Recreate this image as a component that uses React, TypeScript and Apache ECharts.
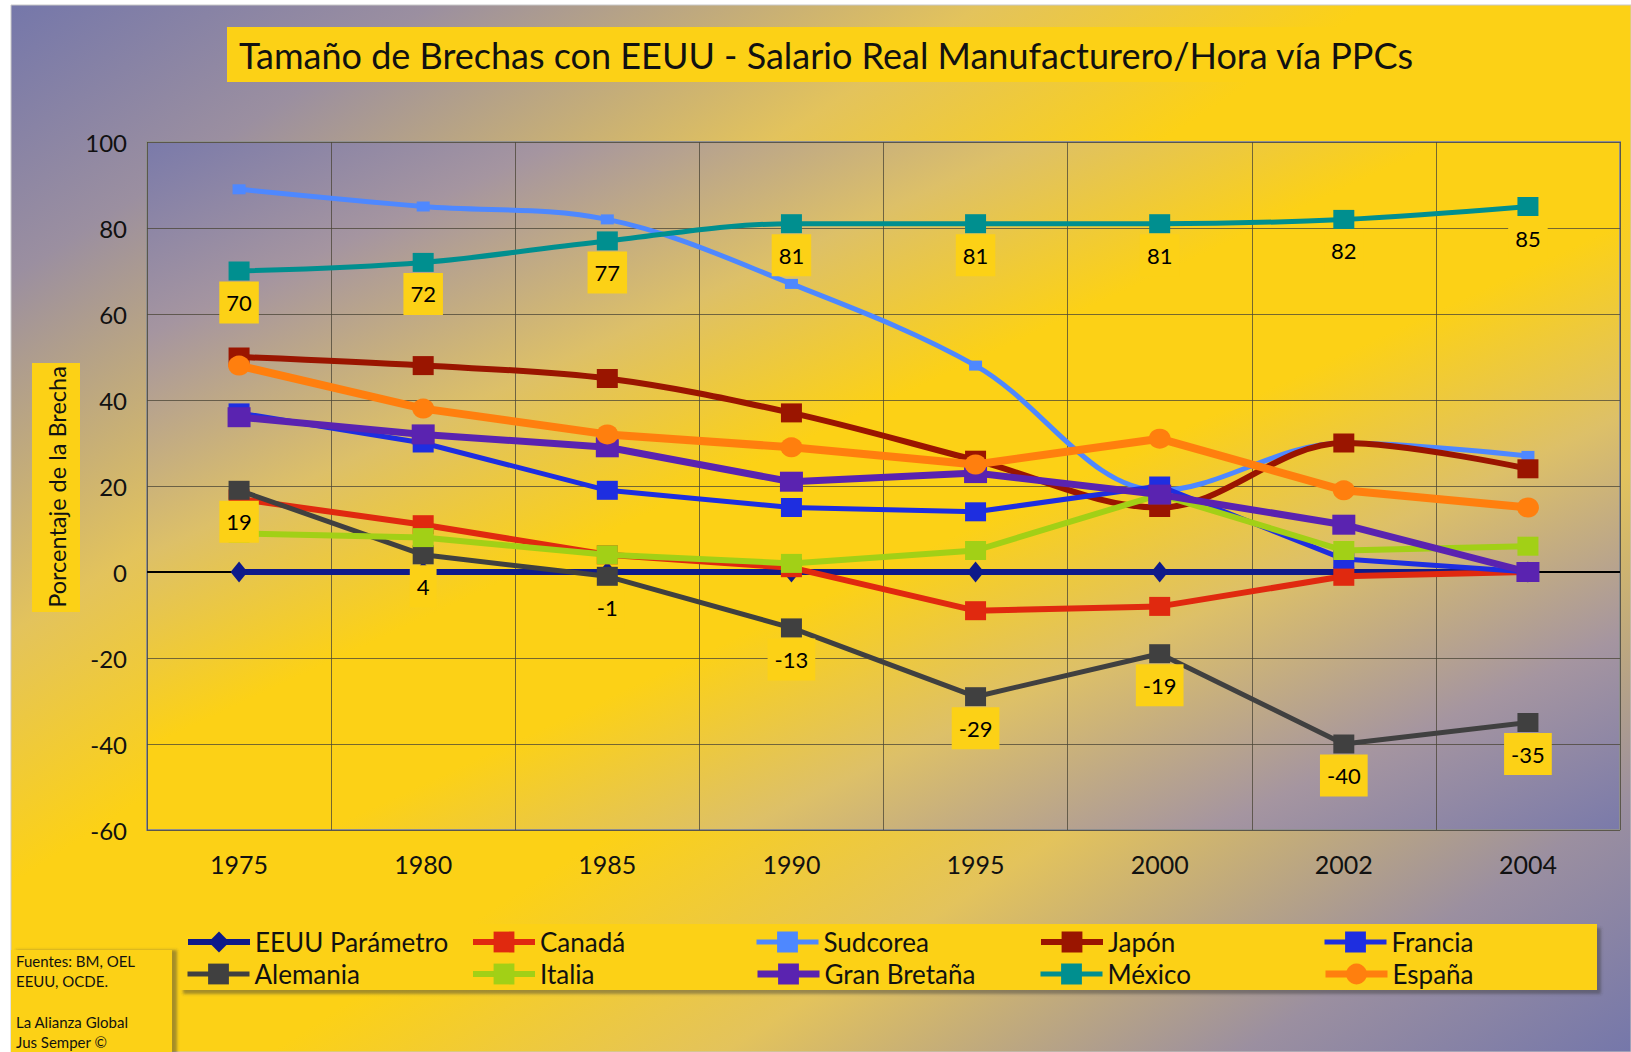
import React, { useEffect, useRef } from 'react';
import * as echarts from 'echarts';

const years = ['1975', '1980', '1985', '1990', '1995', '2000', '2002', '2004'];
const eeuu = [0, 0, 0, 0, 0, 0, 0, 0];
const canada = [17, 11, 4, 1, -9, -8, -1, 0];
const sudcorea = [89, 85, 82, 67, 48, 19, 30, 27];
const japon = [50, 48, 45, 37, 26, 15, 30, 24];
const francia = [37, 30, 19, 15, 14, 20, 3, 0];
const alemania = [19, 4, -1, -13, -29, -19, -40, -35];
const italia = [9, 8, 4, 2, 5, 18, 5, 6];
const granBretana = [36, 32, 29, 21, 23, 18, 11, 0];
const mexico = [70, 72, 77, 81, 81, 81, 82, 85];
const espana = [48, 38, 32, 29, 25, 31, 19, 15];

const yMin = -60;
const yMax = 100;
const yStep = 20;

const titleText = 'Tamaño de Brechas con EEUU - Salario Real Manufacturero/Hora vía PPCs';
const yName = 'Porcentaje de la Brecha';
const sourceLines = ['Fuentes: BM, OEL', 'EEUU, OCDE.', '', 'La Alianza Global', 'Jus Semper ©'];

const F = 'Lato, "Open Sans", "DejaVu Sans", sans-serif';
const YELLOW = '#FCD116';

const outerGrad = {
  type: 'linear', x: 0, y: 0, x2: 1, y2: 1,
  colorStops: [
    { offset: 0, color: '#7577aa' },
    { offset: 0.13, color: '#9b8fa0' },
    { offset: 0.3, color: '#e3c35c' },
    { offset: 0.42, color: '#fcd116' },
    { offset: 0.58, color: '#fcd116' },
    { offset: 0.72, color: '#e3c35c' },
    { offset: 0.88, color: '#9b8fa0' },
    { offset: 1, color: '#7577aa' },
  ],
};

const plotGrad = {
  type: 'linear', x: 0, y: 0, x2: 1, y2: 1,
  colorStops: [
    { offset: 0, color: '#7a7aaa' },
    { offset: 0.14, color: '#a595a0' },
    { offset: 0.3, color: '#ddc068' },
    { offset: 0.44, color: '#fcd116' },
    { offset: 0.56, color: '#fcd116' },
    { offset: 0.7, color: '#ddc068' },
    { offset: 0.86, color: '#a595a0' },
    { offset: 1, color: '#7a7aaa' },
  ],
};

type SDef = { name: string; data: number[]; color: string; symbol: string; size: number[]; width: number; smooth?: boolean; label?: boolean };

const seriesDefs: SDef[] = [
  { name: 'EEUU Parámetro', data: eeuu, color: '#0f1a8a', symbol: 'diamond', size: [17, 21], width: 6 },
  { name: 'Canadá', data: canada, color: '#e0290f', symbol: 'rect', size: [21, 19], width: 6 },
  { name: 'Sudcorea', data: sudcorea, color: '#4e88ff', symbol: 'rect', size: [13, 10], width: 5, smooth: true },
  { name: 'Japón', data: japon, color: '#9a1500', symbol: 'rect', size: [21, 19], width: 6, smooth: true },
  { name: 'Francia', data: francia, color: '#1e2ee0', symbol: 'rect', size: [21, 19], width: 5 },
  { name: 'Alemania', data: alemania, color: '#404040', symbol: 'rect', size: [21, 19], width: 5, label: true },
  { name: 'Italia', data: italia, color: '#a2d016', symbol: 'rect', size: [21, 19], width: 6 },
  { name: 'Gran Bretaña', data: granBretana, color: '#5a23b0', symbol: 'rect', size: [23, 20], width: 7 },
  { name: 'México', data: mexico, color: '#008f8f', symbol: 'rect', size: [21, 19], width: 5, smooth: true, label: true },
  { name: 'España', data: espana, color: '#ff7f0e', symbol: 'circle', size: [22, 20], width: 8 },
];

const legendCols = [185, 470, 754, 1038, 1322];
const legendRows = [942, 974];

export default function App() {
  const ref = useRef<HTMLDivElement>(null);
  useEffect(() => {
    document.body.style.margin = '0';
    if (!ref.current) return;
    const chart = echarts.init(ref.current, undefined, { renderer: 'svg' });

    const labelStyle = {
      show: true,
      position: 'bottom',
      distance: 1,
      fontSize: 22,
      fontFamily: F,
      color: '#000',
      opacity: 1,
      backgroundColor: YELLOW,
      padding: [10, 7, 10, 7],
    };

    const series: any[] = seriesDefs.map((s, i) => {
      const o: any = {
        name: s.name,
        type: 'line',
        data: s.data,
        symbol: s.symbol,
        symbolSize: s.size,
        smooth: s.smooth ? 0.35 : false,
        lineStyle: { color: s.color, width: s.width },
        itemStyle: { color: s.color },
        z: 3 + i,
        label: { show: false },
      };
      if (i === 0) {
        o.markLine = {
          silent: true,
          symbol: 'none',
          z: 1,
          label: { show: false },
          lineStyle: { color: '#000', width: 2, type: 'solid' },
          data: [{ yAxis: 0 }],
        };
      }
      return o;
    });

    // label-only overlay series so that the data labels sit above every line
    seriesDefs.filter((s) => s.label).forEach((s) => {
      series.push({
        name: '_lbl_' + s.name,
        type: 'line',
        data: s.data,
        symbol: 'rect',
        symbolSize: s.size,
        showSymbol: true,
        itemStyle: { color: 'rgba(0,0,0,0)' },
        lineStyle: { color: 'rgba(0,0,0,0)', width: 0 },
        smooth: s.smooth ? 0.35 : false,
        silent: true,
        z: 30,
        label: labelStyle,
      });
    });

    const legends = seriesDefs.map((s, i) => ({
      data: [s.name],
      left: legendCols[i % 5],
      top: legendRows[Math.floor(i / 5)] - 13,
      itemWidth: 62,
      itemHeight: 26,
      padding: 0,
      selectedMode: false,
      lineStyle: { width: Math.min(s.width, 7) },
      textStyle: { fontSize: 26, fontFamily: F, color: '#111', lineHeight: 26 },
    }));

    const graphic: any[] = [
      { type: 'rect', z: -100, shape: { x: 11, y: 5, width: 1620, height: 1047 }, style: { fill: outerGrad as any, stroke: '#c8c8c8', lineWidth: 1 } },
      { type: 'rect', z: 5, shape: { x: 227, y: 27, width: 1198, height: 55 }, style: { fill: YELLOW } },
      { type: 'text', z: 6, x: 826, y: 55, style: { text: titleText, fontSize: 36, fontFamily: F, fill: '#111', align: 'center', verticalAlign: 'middle' } },
      { type: 'rect', z: 5, shape: { x: 32, y: 363, width: 48, height: 249 }, style: { fill: YELLOW } },
      { type: 'text', z: 6, x: 57, y: 487, rotation: Math.PI / 2, style: { text: yName, fontSize: 23.5, fontFamily: F, fill: '#111', align: 'center', verticalAlign: 'middle' } },
      { type: 'rect', z: 1, shape: { x: 179, y: 924, width: 1418, height: 66 }, style: { fill: YELLOW, shadowBlur: 3, shadowOffsetX: 4, shadowOffsetY: 4, shadowColor: 'rgba(60,60,60,0.45)' } },
      { type: 'rect', z: 1, shape: { x: 11, y: 950, width: 161, height: 110 }, style: { fill: YELLOW, shadowBlur: 3, shadowOffsetX: 5, shadowOffsetY: 0, shadowColor: 'rgba(60,60,60,0.45)' } },
      ...sourceLines.map((t, i) => ({
        type: 'text', z: 6, x: 16, y: 961 + i * 20.2,
        style: { text: t, fontSize: 15, fontFamily: F, fill: '#111', align: 'left', verticalAlign: 'middle' },
      })),
    ];

    chart.setOption({
      animation: false,
      backgroundColor: '#ffffff',
      grid: {
        left: 147, top: 142, width: 1473, height: 688,
        show: true, backgroundColor: plotGrad as any,
        borderColor: '#8f8f8f', borderWidth: 2,
        containLabel: false, outerBoundsMode: 'none',
      },
      xAxis: {
        type: 'category',
        data: years,
        boundaryGap: true,
        axisLine: { show: false },
        axisTick: { show: false },
        axisLabel: { fontSize: 25, fontFamily: F, color: '#111', margin: 21, interval: 0 },
        splitLine: { show: true, interval: 0, lineStyle: { color: '#4a4436', width: 1, opacity: 0.75 } },
      },
      yAxis: {
        type: 'value',
        min: yMin, max: yMax, interval: yStep,
        axisLine: { show: false },
        axisTick: { show: false },
        axisLabel: { fontSize: 24, fontFamily: F, color: '#111', margin: 20 },
        splitLine: { show: true, lineStyle: { color: '#4a4436', width: 1, opacity: 0.75 } },
      },
      legend: legends,
      graphic,
      series,
    } as any);
    return () => chart.dispose();
  }, []);
  return <div ref={ref} style={{ width: 1631, height: 1052 }} />;
}
